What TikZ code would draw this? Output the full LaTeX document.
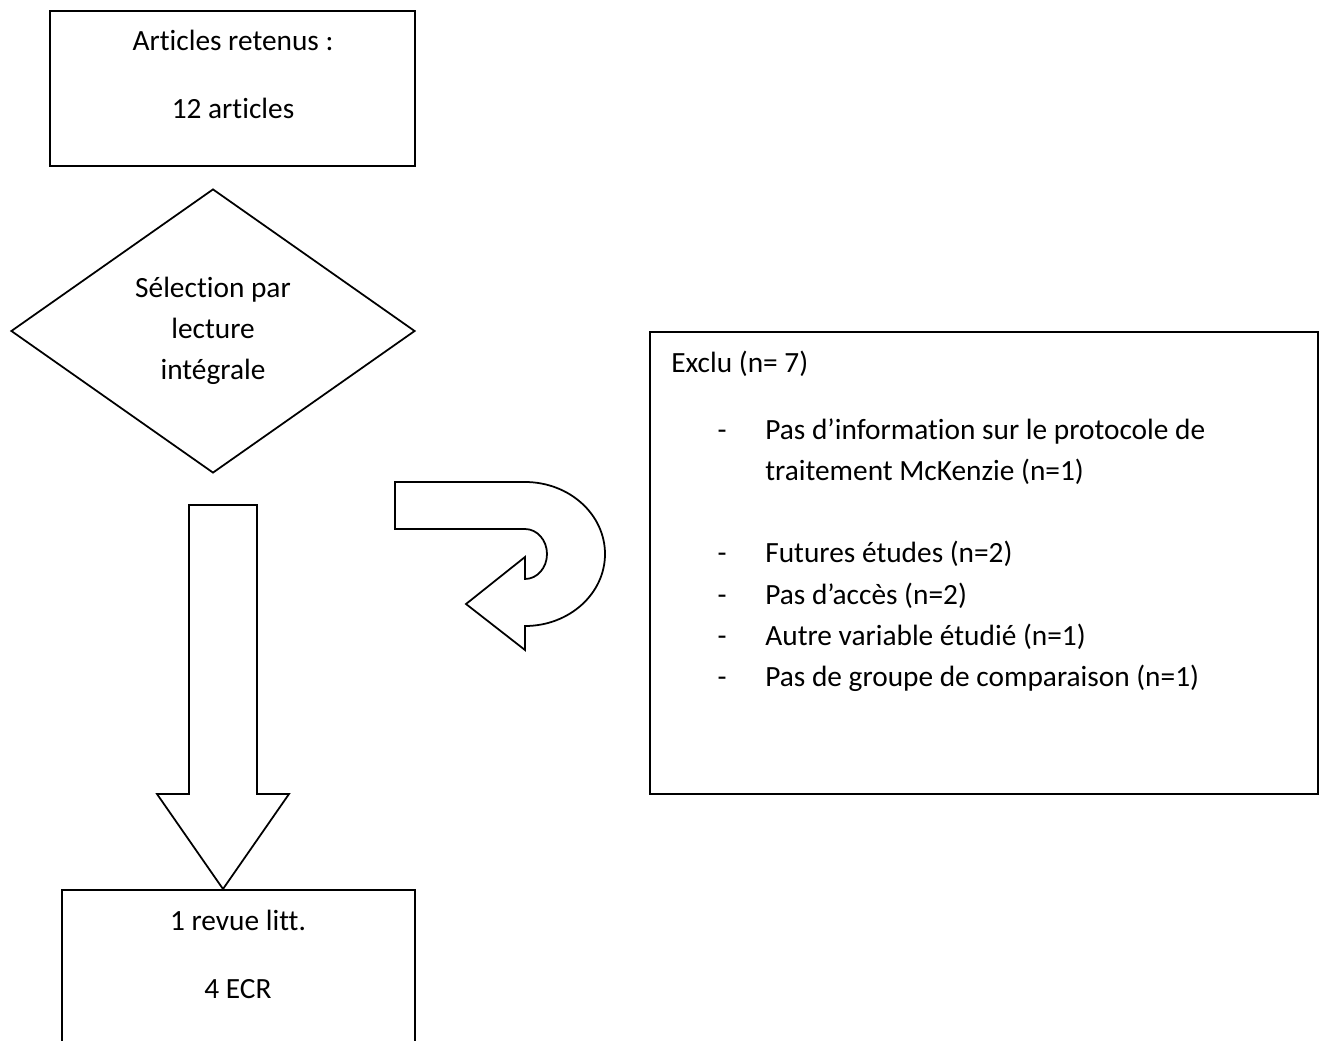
\documentclass[tikz,border=0pt]{standalone}
\usepackage{fontspec}
\setmainfont{Carlito}[Ligatures=NoCommon]
\usetikzlibrary{shapes.geometric,positioning}

\tikzset{
	boite/.style={draw, line width=1pt, inner sep=0pt},
	losange/.style={draw, diamond, line width=1pt, inner sep=0pt, aspect=1.42, align=center, font=\fontsize{16.7}{23.2}\selectfont},
	texte/.style={inner sep=0pt, anchor=base, font=\fontsize{16.7}{23.2}\selectfont},
	fleche/.style={draw, line width=1pt, line join=miter},
}

\begin{document}
\begin{tikzpicture}[x=0.02cm, y=-0.02cm]
	\clip (0,0) rectangle (1325,1041); %Frame of the page
	%Definitions%
	%===========================================================
	\def \xTiret {722}; %Position of the list dashes
	\def \xListe {765}; %Left edge of the list text
	
	%Boxes%
	%===========================================================
	\node[boite, minimum width=7.3cm, minimum height=3.1cm] (retenus) at (232.5,88.5) {}; %Top box
	\node[texte] (retenusA) at (233,50.7) {Articles retenus :};
	\node[texte] (retenusB) at (233,118) {12 articles};
	
	\node[losange, minimum width=8.08cm, minimum height=5.68cm] (selection) at (213,331) {Sélection par\\lecture\\intégrale}; %Decision
	
	\node[boite, minimum width=7.06cm, minimum height=3.4cm] (ecr) at (238.5,975) {}; %Bottom box, cut by the page
	\node[texte] (ecrA) at (238,930) {1 revue litt.};
	\node[texte] (ecrB) at (238,998) {4 ECR};
	
	\node[boite, minimum width=13.36cm, minimum height=9.24cm] (exclu) at (984,563) {}; %Excluded articles
	\node[texte, anchor=base west] (excluT) at (671,372) {Exclu (n= 7)};
	
	%List of reasons
	\node[texte] (tiretA) at (\xTiret,439) {-};
	\node[texte, anchor=base west] (raisonA) at (\xListe,439) {Pas d’information sur le protocole de};
	\node[texte, anchor=base west] (raisonAbis) at (\xListe,480) {traitement McKenzie (n=1)};
	\node[texte] (tiretB) at (\xTiret,562) {-};
	\node[texte, anchor=base west] (raisonB) at (\xListe,562) {Futures études (n=2)};
	\node[texte] (tiretC) at (\xTiret,604) {-};
	\node[texte, anchor=base west] (raisonC) at (\xListe,604) {Pas d’accès (n=2)};
	\node[texte] (tiretD) at (\xTiret,645) {-};
	\node[texte, anchor=base west] (raisonD) at (\xListe,645) {Autre variable étudié (n=1)};
	\node[texte] (tiretE) at (\xTiret,686) {-};
	\node[texte, anchor=base west] (raisonE) at (\xListe,686) {Pas de groupe de comparaison (n=1)};
	
	%Block arrows%
	%===========================================================
	\coordinate (basTip) at (223,889); %Tip of the down arrow
	\draw[fleche] (189,505) -- (257,505) -- (257,794) -- (289,794) -- (basTip) -- (157,794) -- (189,794) -- cycle; %Down arrow
	
	\coordinate (retourTip) at (466,604); %Tip of the U-turn arrow
	\draw[fleche] (395,482) -- (525,482) arc[start angle=-90, end angle=90, x radius=80, y radius=72] -- (525,650) -- (retourTip) -- (525,557) -- (525,579) arc[start angle=90, end angle=-90, x radius=22, y radius=25] -- (395,529) -- cycle; %U-turn arrow
\end{tikzpicture}
\end{document}
